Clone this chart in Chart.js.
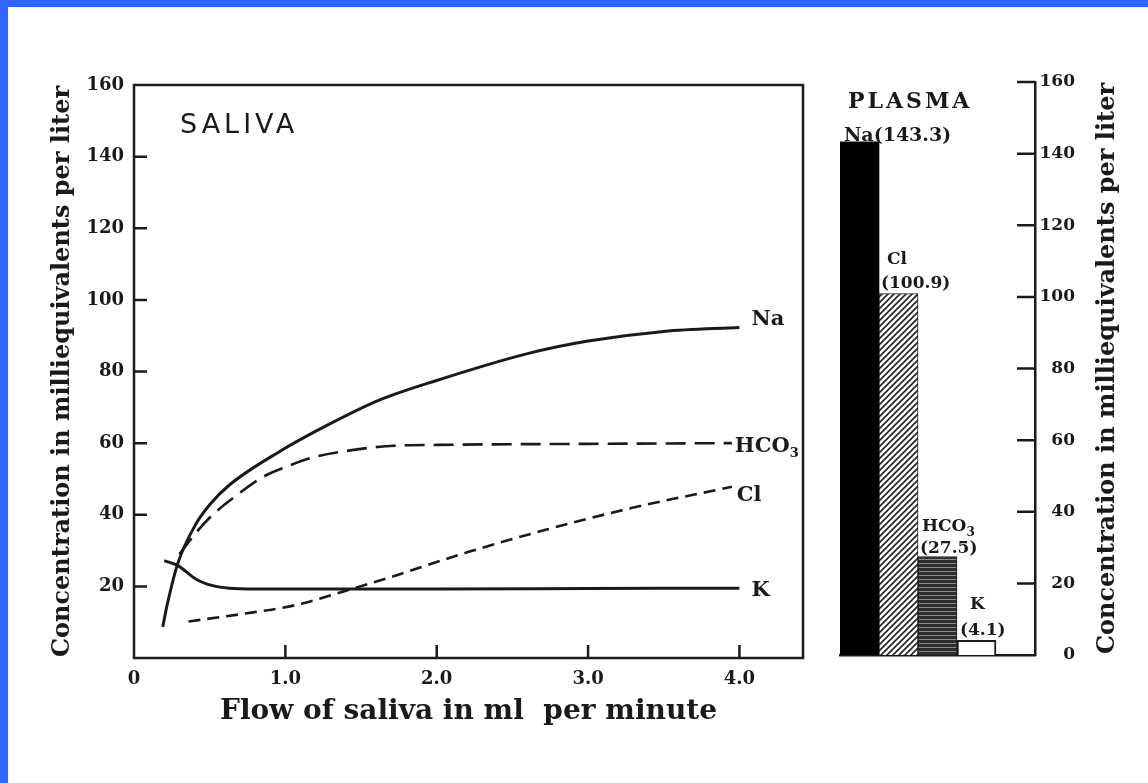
<!DOCTYPE html>
<html>
<head>
<meta charset="utf-8">
<script src="https://cdn.jsdelivr.net/npm/chart.js@4.4.0/dist/chart.umd.min.js"></script>
<style>
  html, body { margin: 0; padding: 0; background: #fff; }
  #page { position: relative; width: 1148px; height: 783px; background: #fff; overflow: hidden; }
  #blueTop { position: absolute; left: 0; top: 0; width: 1148px; height: 7px; background: #3366ff; }
  #blueLeft { position: absolute; left: 0; top: 0; width: 8px; height: 783px; background: #3366ff; }
  canvas { position: absolute; left: 0; top: 0; }
</style>
</head>
<body>
<div id="page">
  <canvas id="salivaChart" width="1148" height="783"></canvas>
  <canvas id="plasmaChart" width="1148" height="783"></canvas>
  <div id="blueTop"></div>
  <div id="blueLeft"></div>
</div>
<script>
// tick labels
const flowTicks = [0, 1.0, 2.0, 3.0, 4.0];
const concTicks = [0, 20, 40, 60, 80, 100, 120, 140, 160];

// saliva curves (flow in ml/min, concentration in mEq/l)
const naFlow = [0.19, 0.22, 0.29, 0.41, 0.5, 0.63, 0.96, 1.3, 1.62, 2.0, 2.6, 3.0, 3.5, 4.0];
const naConc = [8.7, 15, 26.5, 37.5, 42.8, 48.3, 57.6, 65.5, 72, 77.5, 85, 88.5, 91.2, 92.3];

const hco3Flow = [0.3, 0.42, 0.52, 0.68, 0.85, 1.0, 1.18, 1.4, 1.69, 2.0, 3.0, 3.95];
const hco3Conc = [29, 35.5, 40, 45.5, 50.5, 53.3, 56, 57.8, 59.2, 59.5, 59.8, 60];

const clFlow = [0.36, 0.7, 1.07, 1.4, 1.69, 2.2, 2.72, 3.3, 3.95];
const clConc = [10.2, 12.2, 14.8, 18.8, 22.5, 29.5, 35.8, 42, 47.8];

const kFlow = [0.2, 0.29, 0.41, 0.52, 0.63, 0.8, 1.0, 2.0, 3.0, 4.0];
const kConc = [27.2, 25.8, 22, 20.2, 19.5, 19.3, 19.3, 19.3, 19.4, 19.5];

// plasma bars (last slot is the empty space before the right axis)
const plasmaIons = ['Na', 'Cl', 'HCO3', 'K', ''];
const plasmaValues = [143.3, 100.9, 27.5, 4.1, null];

const INK = '#1a1a1a';
const SERIF = '"DejaVu Serif", "Liberation Serif", serif';
const yTitle = 'Concentration in milliequivalents per liter';

function pts(xs, ys) {
    return xs.map((x, i) => ({ x: x, y: ys[i] }));
}

function hatchPattern() {
    const c = document.createElement('canvas');
    c.width = 6; c.height = 6;
    const g = c.getContext('2d');
    g.fillStyle = '#fff';
    g.fillRect(0, 0, 6, 6);
    g.strokeStyle = '#222';
    g.lineWidth = 1.6;
    g.beginPath();
    g.moveTo(0, 6); g.lineTo(6, 0);
    g.moveTo(-1, 1); g.lineTo(1, -1);
    g.moveTo(5, 7); g.lineTo(7, 5);
    g.stroke();
    return g.createPattern(c, 'repeat');
}

function stripePattern() {
    const c = document.createElement('canvas');
    c.width = 4; c.height = 4;
    const g = c.getContext('2d');
    g.fillStyle = '#2e2e2e';
    g.fillRect(0, 0, 4, 4);
    g.fillStyle = '#8a8a8a';
    g.fillRect(0, 3, 4, 1);
    return g.createPattern(c, 'repeat');
}

// frame, inward ticks and text inside the saliva panel
const salivaDecor = {
    id: 'salivaDecor',
    afterDraw(chart) {
        const { ctx, chartArea: a, scales } = chart;
        ctx.save();
        ctx.strokeStyle = INK;
        ctx.lineWidth = 2.5;
        ctx.strokeRect(a.left, a.top, a.right - a.left, a.bottom - a.top);

        ctx.beginPath();
        concTicks.forEach(v => {
            if (v === 0 || v === 160) return;
            const y = scales.y.getPixelForValue(v);
            ctx.moveTo(a.left, y);
            ctx.lineTo(a.left + 13, y);
        });
        flowTicks.forEach(v => {
            if (v === 0) return;
            const x = scales.x.getPixelForValue(v);
            ctx.moveTo(x, a.bottom);
            ctx.lineTo(x, a.bottom - 13);
        });
        ctx.stroke();

        ctx.fillStyle = INK;
        ctx.font = '27px "DejaVu Sans", sans-serif';
        ctx.letterSpacing = '4px';
        ctx.textBaseline = 'alphabetic';
        ctx.fillText('SALIVA', a.left + 46, a.top + 48);
        ctx.letterSpacing = '0px';

        // names at the end of each curve
        const offs = [[12, -8], [3, 3], [5, 9], [12, 2]];
        chart.data.datasets.forEach((ds, i) => {
            const meta = chart.getDatasetMeta(i);
            const last = meta.data[meta.data.length - 1];
            const x = last.x + offs[i][0];
            const y = last.y + offs[i][1];
            ctx.textBaseline = 'middle';
            ctx.font = 'bold 21px ' + SERIF;
            if (ds.label === 'HCO3') {
                ctx.fillText('HCO', x, y);
                const w = ctx.measureText('HCO').width;
                ctx.font = 'bold 13px ' + SERIF;
                ctx.fillText('3', x + w, y + 7);
            } else {
                ctx.fillText(ds.label, x, y);
            }
        });
        ctx.restore();
    }
};

const lineStyle = {
    borderColor: INK,
    pointRadius: 0,
    fill: false,
    cubicInterpolationMode: 'monotone'
};

new Chart(document.getElementById('salivaChart'), {
    type: 'line',
    data: {
        datasets: [
            { ...lineStyle, label: 'Na', data: pts(naFlow, naConc), borderWidth: 3 },
            { ...lineStyle, label: 'HCO3', data: pts(hco3Flow, hco3Conc), borderWidth: 2.6, borderDash: [20, 9] },
            { ...lineStyle, label: 'Cl', data: pts(clFlow, clConc), borderWidth: 2.6, borderDash: [12, 7] },
            { ...lineStyle, label: 'K', data: pts(kFlow, kConc), borderWidth: 3 }
        ]
    },
    options: {
        responsive: false,
        animation: false,
        layout: { padding: { left: 0, top: 85, right: 345, bottom: 0 } },
        plugins: { legend: { display: false }, tooltip: { enabled: false } },
        scales: {
            x: {
                type: 'linear',
                min: 0,
                max: 4.42,
                afterBuildTicks: s => { s.ticks = flowTicks.map(v => ({ value: v })); },
                afterFit: s => { s.height = 125; },
                grid: { display: false, drawTicks: false },
                border: { display: false },
                ticks: {
                    color: INK,
                    padding: 11,
                    maxRotation: 0,
                    font: { family: SERIF, size: 18, weight: 'bold' },
                    callback: v => v === 0 ? '0' : v.toFixed(1)
                },
                title: {
                    display: true,
                    text: 'Flow of saliva in ml  per minute',
                    color: INK,
                    font: { family: SERIF, size: 28, weight: 'bold' },
                    padding: { top: 0, bottom: 54 }
                }
            },
            y: {
                min: 0,
                max: 160,
                afterBuildTicks: s => { s.ticks = concTicks.map(v => ({ value: v })); },
                afterFit: s => { s.width = 134; },
                grid: { display: false, drawTicks: false },
                border: { display: false },
                ticks: {
                    color: INK,
                    padding: 10,
                    font: { family: SERIF, size: 18, weight: 'bold' },
                    callback: v => v === 0 ? '' : String(v)
                },
                title: {
                    display: true,
                    text: yTitle,
                    color: INK,
                    font: { family: SERIF, size: 24, weight: 'bold' },
                    padding: { top: 48, bottom: 0 }
                }
            }
        }
    },
    plugins: [salivaDecor]
});

// right axis ticks, bar labels and rotated title for the plasma panel
const plasmaDecor = {
    id: 'plasmaDecor',
    afterDraw(chart) {
        const { ctx, chartArea: a, scales } = chart;
        ctx.save();
        ctx.strokeStyle = INK;
        ctx.lineWidth = 2.5;
        ctx.beginPath();
        concTicks.forEach(v => {
            if (v === 0) return;
            const y = scales.y.getPixelForValue(v);
            ctx.moveTo(a.right - 18, y);
            ctx.lineTo(a.right, y);
        });
        ctx.stroke();

        const bars = chart.getDatasetMeta(0).data;
        const leftOf = i => bars[i].x - bars[i].width / 2;
        ctx.fillStyle = INK;
        ctx.textBaseline = 'alphabetic';

        ctx.font = 'bold 22px ' + SERIF;
        ctx.letterSpacing = '3px';
        ctx.fillText('PLASMA', leftOf(0) + 8, bars[0].y - 34);
        ctx.letterSpacing = '0px';
        ctx.font = 'bold 19px ' + SERIF;
        ctx.fillText('Na(' + plasmaValues[0] + ')', leftOf(0) + 4, bars[0].y - 1);

        ctx.font = 'bold 17px ' + SERIF;
        ctx.fillText('Cl', leftOf(1) + 8, bars[1].y - 30);
        ctx.fillText('(' + plasmaValues[1] + ')', leftOf(1) + 2, bars[1].y - 6);

        ctx.fillText('HCO', leftOf(2) + 4, bars[2].y - 26);
        const w = ctx.measureText('HCO').width;
        ctx.font = 'bold 12px ' + SERIF;
        ctx.fillText('3', leftOf(2) + 4 + w, bars[2].y - 21);
        ctx.font = 'bold 17px ' + SERIF;
        ctx.fillText('(' + plasmaValues[2] + ')', leftOf(2) + 2, bars[2].y - 4);

        ctx.fillText('K', leftOf(3) + 13, bars[3].y - 31);
        ctx.fillText('(' + plasmaValues[3] + ')', leftOf(3) + 3, bars[3].y - 5);

        ctx.translate(1108, (a.top + a.bottom) / 2);
        ctx.rotate(-Math.PI / 2);
        ctx.textAlign = 'center';
        ctx.textBaseline = 'middle';
        ctx.font = 'bold 24px ' + SERIF;
        ctx.fillText(yTitle, 0, 0);
        ctx.restore();
    }
};

new Chart(document.getElementById('plasmaChart'), {
    type: 'bar',
    data: {
        labels: plasmaIons,
        datasets: [{
            data: plasmaValues,
            backgroundColor: ['#000', hatchPattern(), stripePattern(), '#fff', '#fff'],
            borderColor: INK,
            borderWidth: [0, 1, 1, 2, 0],
            categoryPercentage: 1,
            barPercentage: 1
        }]
    },
    options: {
        responsive: false,
        animation: false,
        layout: { padding: { left: 840, top: 82, right: 73, bottom: 0 } },
        plugins: { legend: { display: false }, tooltip: { enabled: false } },
        scales: {
            x: {
                ticks: { display: false },
                grid: { display: false, drawTicks: false },
                border: { display: true, color: INK, width: 2.5 },
                afterFit: s => { s.height = 128; }
            },
            y: {
                position: 'right',
                min: 0,
                max: 160,
                afterBuildTicks: s => { s.ticks = concTicks.map(v => ({ value: v })); },
                afterFit: s => { s.width = 40; },
                grid: { display: false, drawTicks: false },
                border: { display: true, color: INK, width: 2.5 },
                ticks: {
                    color: INK,
                    padding: 3,
                    crossAlign: 'far',
                    font: { family: SERIF, size: 17, weight: 'bold' }
                }
            }
        }
    },
    plugins: [plasmaDecor]
});
</script>
</body>
</html>
